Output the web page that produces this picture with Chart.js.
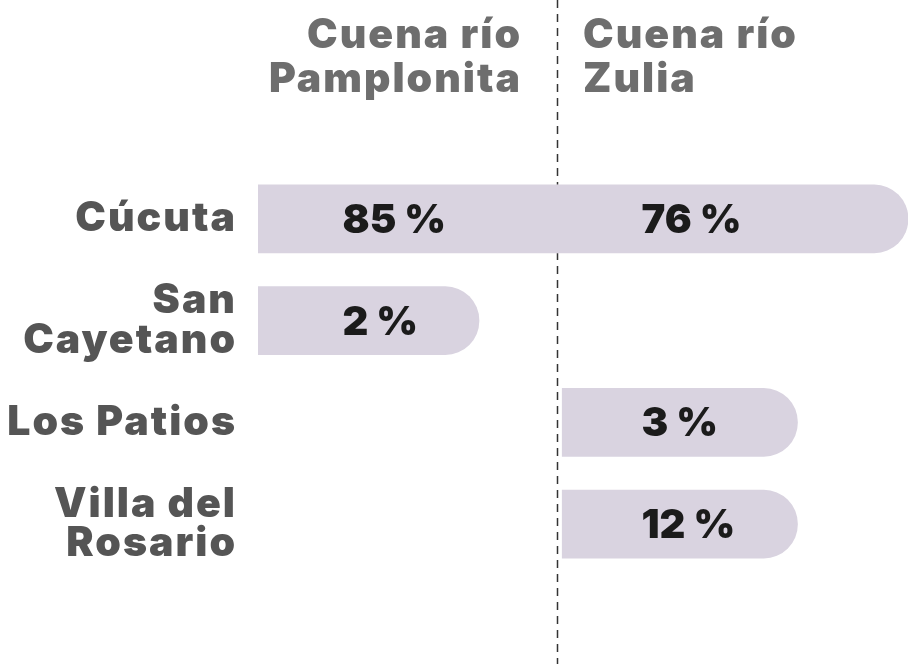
<!DOCTYPE html>
<html>
<head>
<meta charset="utf-8">
<script src="https://cdn.jsdelivr.net/npm/chart.js@4"></script>
<style>
  html, body { margin: 0; padding: 0; background: #fff; }
  #wrap { width: 909px; height: 664px; }
</style>
</head>
<body>
<div id="wrap"><canvas id="chart" width="909" height="664"></canvas></div>
<script>
// municipios (filas) y cuencas (columnas)
const categories = [['Cúcuta'], ['San', 'Cayetano'], ['Los Patios'], ['Villa del', 'Rosario']];
const basins = [['Cuena río', 'Pamplonita'], ['Cuena río', 'Zulia']];

// porcentaje de cada municipio dentro de cada cuenca
const pamplonita = [85, 2, null, null];
const zulia = [76, null, 3, 12];

// geometría de las píldoras (unidades del eje x, 0..100)
const SPLIT = 46;        // línea punteada entre cuencas
const PILL_P_END = 34;   // fin de la píldora sola en Pamplonita
const PILL_Z_START = 46.8;
const PILL_Z_END = 83;
const LABEL_X = [13, 59];

const FONT = 'Inter, "Open Sans", sans-serif';
const BAR_COLOR = '#d9d3e0';
const SPACING = 2; // Inter es más estrecha que la fuente original

// cada barra flotante: [inicio, fin]; si la fila tiene ambas cuencas se unen en una sola
const pSpans = pamplonita.map((v, i) => v == null ? null : [0, zulia[i] != null ? SPLIT : PILL_P_END]);
const zSpans = zulia.map((v, i) => v == null ? null : (pamplonita[i] != null ? [SPLIT, 100] : [PILL_Z_START, PILL_Z_END]));

const roundEnd = { topLeft: 0, bottomLeft: 0, topRight: 34, bottomRight: 34 };

const overlay = {
  id: 'overlay',
  beforeDraw(chart) {
    // espaciado para las etiquetas del eje y
    chart.ctx.letterSpacing = SPACING + 'px';
  },
  beforeDatasetsDraw(chart) {
    const ctx = chart.ctx;
    ctx.letterSpacing = '0px';
    const x = Math.round(chart.scales.x.getPixelForValue(SPLIT)) + 0.5;
    ctx.save();
    ctx.strokeStyle = '#333';
    ctx.lineWidth = 1.5;
    ctx.setLineDash([8, 6]);
    ctx.beginPath();
    ctx.moveTo(x, 0);
    ctx.lineTo(x, chart.height);
    ctx.stroke();
    ctx.restore();
  },
  afterDatasetsDraw(chart) {
    const ctx = chart.ctx;
    const xs = chart.scales.x;
    ctx.save();
    ctx.letterSpacing = '0px';
    ctx.fillStyle = '#1b1b1b';
    ctx.font = '900 40px ' + FONT;
    ctx.textAlign = 'left';
    ctx.textBaseline = 'middle';
    [pamplonita, zulia].forEach((vals, d) => {
      const meta = chart.getDatasetMeta(d);
      vals.forEach((v, i) => {
        if (v == null) return;
        ctx.fillText(v + ' %', xs.getPixelForValue(LABEL_X[d]), meta.data[i].y + 2);
      });
    });

    // encabezados de columna
    ctx.letterSpacing = SPACING + 'px';
    ctx.fillStyle = '#6e6e6e';
    ctx.font = '900 41px ' + FONT;
    ctx.textBaseline = 'alphabetic';
    const split = xs.getPixelForValue(SPLIT);
    basins.forEach((lines, d) => {
      ctx.textAlign = d === 0 ? 'right' : 'left';
      const hx = d === 0 ? split - 37 + SPACING : split + 26;
      lines.forEach((t, k) => ctx.fillText(t, hx, 48 + k * 44));
    });
    ctx.restore();
  }
};

new Chart(document.getElementById('chart'), {
  type: 'bar',
  data: {
    labels: categories,
    datasets: [
      { label: basins[0].join(' '), data: pSpans,
        backgroundColor: BAR_COLOR,
        borderRadius: c => (zulia[c.dataIndex] != null ? 0 : roundEnd) },
      { label: basins[1].join(' '), data: zSpans,
        backgroundColor: BAR_COLOR,
        borderRadius: roundEnd }
    ]
  },
  options: {
    indexAxis: 'y',
    responsive: false,
    animation: false,
    layout: { padding: { top: 168, bottom: 89, right: 1, left: 0 } },
    datasets: { bar: { grouped: false, barThickness: 68, borderWidth: 0, borderSkipped: false } },
    scales: {
      x: { type: 'linear', min: 0, max: 100, display: false },
      y: {
        type: 'category',
        offset: true,
        grid: { display: false, drawTicks: false },
        border: { display: false },
        afterFit: s => { s.width = 258; },
        ticks: {
          padding: 21,
          color: '#555',
          crossAlign: 'near',
          font: { family: FONT, size: 41, weight: '900', lineHeight: 0.96 }
        }
      }
    },
    plugins: { legend: { display: false }, tooltip: { enabled: false } }
  },
  plugins: [overlay]
});
</script>
</body>
</html>
